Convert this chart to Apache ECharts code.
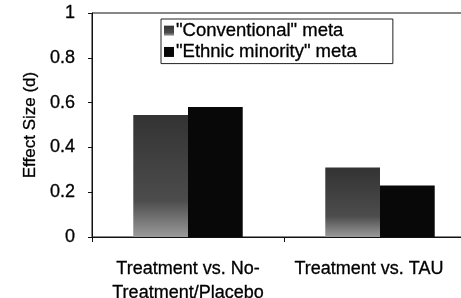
<!DOCTYPE html>
<html>
<head>
<meta charset="utf-8">
<script src="https://cdn.jsdelivr.net/npm/echarts@6/dist/echarts.min.js"></script>
<style>
  html, body { margin: 0; padding: 0; background: #fff; }
  #chart { width: 461px; height: 298px; }
</style>
</head>
<body>
<div id="chart"></div>
<script>
// data
var categories = ['Treatment vs. No-\nTreatment/Placebo', 'Treatment vs. TAU'];
var conventional = [0.545, 0.31];
var ethnicMinority = [0.58, 0.23];
var seriesNames = ['"Conventional" meta', '"Ethnic minority" meta'];

var font = 'Liberation Sans, Arial, sans-serif';

var chart = echarts.init(document.getElementById('chart'));

// second label sits a little left of its bars in the original
var xData = [
    categories[0],
    {value: categories[1], textStyle: {padding: [0, 22, 24, 0]}}
];

var option = {
    backgroundColor: '#fff',
    animation: false,
    grid: {
        left: 92,
        width: 384,
        top: 13,
        bottom: 61,
        outerBoundsMode: 'none',
        show: true,
        borderColor: '#111',
        borderWidth: 1
    },
    legend: {
        orient: 'vertical',
        left: 161,
        top: 19,
        padding: [2, 36, 2, 3],
        itemWidth: 10,
        itemHeight: 10,
        itemGap: 2,
        borderColor: '#222',
        borderWidth: 1,
        icon: 'rect',
        textStyle: {
            fontFamily: font, fontSize: 18.5, lineHeight: 18, color: '#000',
            padding: [0, 0, 0, -3],
            textBorderColor: '#000', textBorderWidth: 0.3
        },
        data: seriesNames
    },
    xAxis: {
        type: 'category',
        data: xData,
        axisLine: {lineStyle: {color: '#111', width: 1}},
        axisTick: {show: true, length: 5, lineStyle: {color: '#111'}},
        axisLabel: {
            interval: 0,
            hideOverlap: false,
            fontFamily: font,
            fontSize: 18,
            color: '#000',
            margin: 20,
            lineHeight: 24,
            textBorderColor: '#000',
            textBorderWidth: 0.3
        }
    },
    yAxis: {
        type: 'value',
        min: 0,
        max: 1,
        interval: 0.2,
        name: 'Effect Size (d)',
        nameLocation: 'middle',
        nameGap: 52,
        nameTextStyle: {fontFamily: font, fontSize: 17, color: '#000', textBorderColor: '#000', textBorderWidth: 0.3},
        splitLine: {show: false},
        axisLine: {show: true, lineStyle: {color: '#111', width: 1}},
        axisTick: {show: true, length: 4, lineStyle: {color: '#111'}},
        axisLabel: {
            fontFamily: font,
            fontSize: 18,
            color: '#000',
            margin: 17,
            textBorderColor: '#000',
            textBorderWidth: 0.3
        }
    },
    series: [
        {
            name: seriesNames[0],
            type: 'bar',
            data: conventional,
            barGap: '0%',
            barCategoryGap: '43%',
            itemStyle: {
                color: new echarts.graphic.LinearGradient(0, 0, 0, 1, [
                    {offset: 0, color: '#333'},
                    {offset: 0.7, color: '#4c4c4c'},
                    {offset: 1, color: '#9a9a9a'}
                ])
            }
        },
        {
            name: seriesNames[1],
            type: 'bar',
            data: ethnicMinority,
            itemStyle: {color: '#080808'}
        }
    ]
};

chart.setOption(option);

window.onresize = function () {
    chart.resize();
};
</script>
</body>
</html>
